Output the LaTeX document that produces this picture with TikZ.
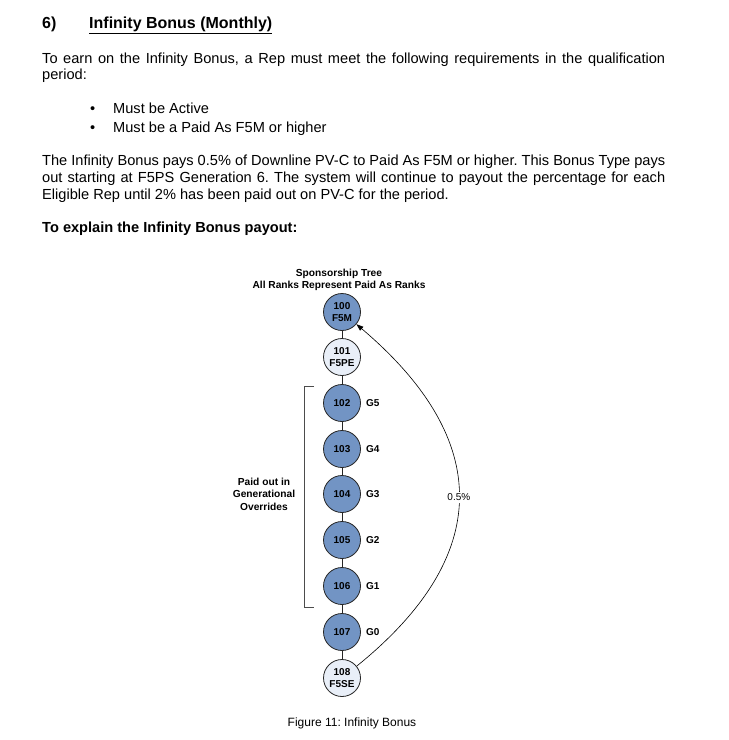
\documentclass[tikz,border=0pt]{standalone}
\usepackage{fontspec}
\setmainfont{Liberation Sans}
\usetikzlibrary{positioning,arrows.meta}
\frenchspacing

\definecolor{repblue}{HTML}{7294C4}
\definecolor{replight}{HTML}{E9EFF8}

\begin{document}
\begin{tikzpicture}[x=1pt,y=-1pt,
  body/.style={anchor=base west,inner sep=0pt,font=\fontsize{14.6}{16}\selectfont},
  bodybold/.style={body,font=\fontsize{14.6}{16}\selectfont\bfseries},
  rep/.style={circle,draw=black!85,line width=0.8pt,minimum size=37pt,inner sep=0pt,
    align=center,font=\fontsize{10}{12}\selectfont\bfseries},
  paidrep/.style={rep,fill=repblue},
  otherrep/.style={rep,fill=replight},
  gen/.style={inner sep=0pt,font=\fontsize{10}{12}\selectfont\bfseries}]
  \useasboundingbox (0,0) rectangle (729,740);

  % header and text
  \node[body,font=\fontsize{16}{18}\selectfont\bfseries] (num) at (42,28) {6)};
  \node[body,font=\fontsize{16}{18}\selectfont\bfseries] (title) at (89,28) {\underline{Infinity Bonus (Monthly)}};
  \node[body] (req1) at (42,63) {\makebox[623pt][s]{To earn on the Infinity Bonus, a Rep must meet the following requirements in the qualification}};
  \node[body] (req2) at (42,79) {period:};
  \node[body] (b1) at (90,113) {\textbullet};
  \node[body] (r1) at (113,113) {Must be Active};
  \node[body] (b2) at (90,132) {\textbullet};
  \node[body] (r2) at (113,132) {Must be a Paid As F5M or higher};
  \node[body] (pay1) at (42,165) {\makebox[623pt][s]{The Infinity Bonus pays 0.5\% of Downline PV-C to Paid As F5M or higher. This Bonus Type pays}};
  \node[body] (pay2) at (42,182) {\makebox[623pt][s]{out starting at F5PS Generation 6. The system will continue to payout the percentage for each}};
  \node[body] (pay3) at (42,199) {Eligible Rep until 2\% has been paid out on PV-C for the period.};
  \node[bodybold] (expl) at (42,232) {To explain the Infinity Bonus payout:};

  % sponsorship tree
  \node[align=center,inner sep=0pt,font=\fontsize{10.2}{12}\selectfont\bfseries] (tree) at (339,280)
    {Sponsorship Tree\\All Ranks Represent Paid As Ranks};
  \node[paidrep] (n100) at (342,312) {100\\F5M};
  \node[otherrep] (n101) at (342,357) {101\\F5PE};
  \foreach \id/\g/\y in {102/5/403,103/4/449,104/3/494,105/2/540,106/1/586,107/0/632}{
    \node[paidrep] (n\id) at (342,\y) {\id};
    \node[gen,right=5pt of n\id] (g\id) {G\g};
  }
  \node[otherrep] (n108) at (342,678) {108\\F5SE};
  \foreach \a/\b in {100/101,101/102,102/103,103/104,104/105,105/106,106/107,107/108}
    \draw[line width=0.8pt,black!85] (n\a) -- (n\b);

  % bracket
  \draw[line width=0.8pt,black!70] (314,386) -- (304,386) -- (304,607) -- (314,607);
  \node[align=center,inner sep=0pt,font=\fontsize{10.2}{12.6}\selectfont\bfseries] (paid) at (264,494)
    {Paid out in\\Generational\\Overrides};

  % payout arc
  \draw[line width=0.6pt,-{Triangle[length=7pt,width=5pt]}] (n108) .. controls (493,556) and (493,440) .. (n100)
    node[pos=0.5,fill=white,inner sep=2pt,font=\fontsize{10}{12}\selectfont] (pct) {0.5\%};

  \node[inner sep=0pt,font=\fontsize{12}{14}\selectfont] (cap) at (352,723) {Figure 11: Infinity Bonus};
\end{tikzpicture}
\end{document}
